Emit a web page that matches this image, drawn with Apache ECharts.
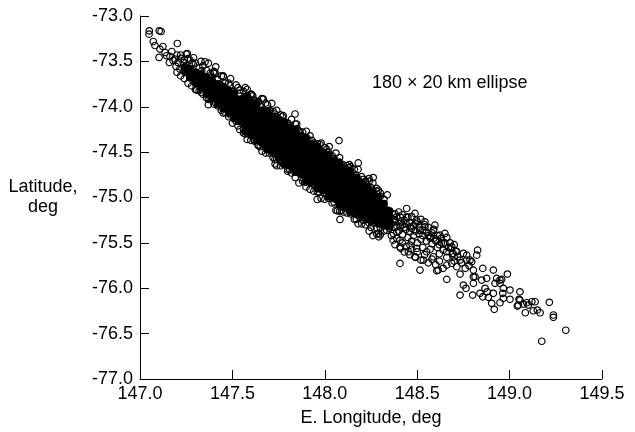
<!DOCTYPE html>
<html><head><meta charset="utf-8">
<script src="https://cdn.jsdelivr.net/npm/echarts/dist/echarts.min.js"></script>
<style>html,body{margin:0;padding:0;background:#fff}#c{width:635px;height:432px}</style>
</head><body><div id="c"></div>
<script>
const xTicks = [147.0, 147.5, 148.0, 148.5, 149.0, 149.5];
const yTicks = [-73.0, -73.5, -74.0, -74.5, -75.0, -75.5, -76.0, -76.5, -77.0];
const xTitle = 'E. Longitude, deg';
const yTitle = 'Latitude,\ndeg';
const note = '180 \u00d7 20 km ellipse';

// dense centre of the cloud (overlapping circles appear solid black)
const corePoints = [
[147.24,-73.57],[147.24,-73.61],
[147.27,-73.58],[147.27,-73.63],[147.27,-73.68],
[147.30,-73.62],[147.30,-73.68],[147.30,-73.74],
[147.33,-73.64],[147.33,-73.70],[147.33,-73.75],[147.33,-73.80],
[147.36,-73.68],[147.36,-73.74],[147.36,-73.80],[147.36,-73.86],
[147.39,-73.71],[147.39,-73.77],[147.39,-73.83],[147.39,-73.91],
[147.42,-73.75],[147.42,-73.81],[147.42,-73.87],[147.42,-73.93],[147.42,-73.97],
[147.45,-73.78],[147.45,-73.84],[147.45,-73.90],[147.45,-73.96],[147.45,-74.02],
[147.48,-73.82],[147.48,-73.88],[147.48,-73.94],[147.48,-74.00],[147.48,-74.07],
[147.51,-73.85],[147.51,-73.91],[147.51,-73.97],[147.51,-74.03],[147.51,-74.09],[147.51,-74.13],
[147.54,-73.92],[147.54,-73.98],[147.54,-74.04],[147.54,-74.10],[147.54,-74.16],
[147.57,-73.93],[147.57,-73.99],[147.57,-74.05],[147.57,-74.11],[147.57,-74.17],[147.57,-74.23],
[147.60,-74.01],[147.60,-74.07],[147.60,-74.13],[147.60,-74.19],[147.60,-74.25],
[147.63,-74.02],[147.63,-74.08],[147.63,-74.14],[147.63,-74.20],[147.63,-74.26],[147.63,-74.32],
[147.66,-74.10],[147.66,-74.16],[147.66,-74.22],[147.66,-74.28],[147.66,-74.34],
[147.69,-74.11],[147.69,-74.17],[147.69,-74.23],[147.69,-74.29],[147.69,-74.35],[147.69,-74.41],
[147.72,-74.19],[147.72,-74.25],[147.72,-74.31],[147.72,-74.37],[147.72,-74.43],
[147.75,-74.20],[147.75,-74.26],[147.75,-74.32],[147.75,-74.38],[147.75,-74.44],[147.75,-74.50],
[147.78,-74.28],[147.78,-74.34],[147.78,-74.40],[147.78,-74.46],[147.78,-74.52],
[147.81,-74.29],[147.81,-74.35],[147.81,-74.41],[147.81,-74.47],[147.81,-74.53],[147.81,-74.59],
[147.84,-74.37],[147.84,-74.43],[147.84,-74.49],[147.84,-74.55],[147.84,-74.61],
[147.87,-74.38],[147.87,-74.44],[147.87,-74.50],[147.87,-74.56],[147.87,-74.62],[147.87,-74.68],
[147.90,-74.46],[147.90,-74.52],[147.90,-74.58],[147.90,-74.64],[147.90,-74.70],
[147.93,-74.47],[147.93,-74.53],[147.93,-74.59],[147.93,-74.65],[147.93,-74.71],[147.93,-74.77],
[147.96,-74.55],[147.96,-74.61],[147.96,-74.67],[147.96,-74.73],[147.96,-74.79],
[147.99,-74.56],[147.99,-74.62],[147.99,-74.68],[147.99,-74.74],[147.99,-74.80],[147.99,-74.86],
[148.02,-74.64],[148.02,-74.70],[148.02,-74.76],[148.02,-74.82],[148.02,-74.88],
[148.05,-74.65],[148.05,-74.71],[148.05,-74.77],[148.05,-74.83],[148.05,-74.89],[148.05,-74.95],
[148.08,-74.73],[148.08,-74.79],[148.08,-74.85],[148.08,-74.91],[148.08,-74.97],
[148.11,-74.74],[148.11,-74.80],[148.11,-74.86],[148.11,-74.92],[148.11,-74.98],[148.11,-75.04],
[148.14,-74.82],[148.14,-74.88],[148.14,-74.94],[148.14,-75.00],[148.14,-75.06],
[148.17,-74.83],[148.17,-74.89],[148.17,-74.95],[148.17,-75.01],[148.17,-75.07],[148.17,-75.13],
[148.20,-74.91],[148.20,-74.97],[148.20,-75.03],[148.20,-75.09],[148.20,-75.15],
[148.23,-74.94],[148.23,-75.00],[148.23,-75.06],[148.23,-75.12],[148.23,-75.18],
[148.26,-75.00],[148.26,-75.06],[148.26,-75.12],[148.26,-75.18],
[148.29,-75.06],[148.29,-75.12],[148.29,-75.18],[148.29,-75.23],
[148.32,-75.13],[148.32,-75.19],[148.32,-75.25],
[148.35,-75.21],[148.35,-75.26]
];

// outer rows of the dense centre, where the band is widest
const coreOuterPoints = [
[147.57,-73.89],[147.57,-74.27],[147.60,-73.95],[147.60,-74.31],[147.63,-73.97],[147.63,-74.37],
[147.66,-74.04],[147.66,-74.40],[147.69,-74.05],[147.69,-74.47],[147.72,-74.11],[147.72,-74.51],
[147.75,-74.14],[147.75,-74.56],[147.78,-74.22],[147.78,-74.58],[147.78,-74.17],[147.78,-74.63],
[147.81,-74.23],[147.81,-74.65],[147.84,-74.31],[147.84,-74.67],[147.84,-74.26],[147.84,-74.72],
[147.87,-74.32],[147.87,-74.74],[147.90,-74.40],[147.90,-74.76],[147.90,-74.35],[147.90,-74.81],
[147.93,-74.41],[147.93,-74.83],[147.96,-74.49],[147.96,-74.85],[147.96,-74.44],[147.96,-74.90],
[147.99,-74.50],[147.99,-74.92],[148.02,-74.58],[148.02,-74.94],[148.02,-74.53],[148.02,-74.99],
[148.05,-74.59],[148.05,-75.01],[148.08,-74.67],[148.08,-75.03],[148.08,-74.62],[148.08,-75.08],
[148.11,-74.68],[148.11,-75.10],[148.14,-74.76],[148.14,-75.12],[148.14,-74.72],[148.14,-75.16],
[148.17,-74.78],[148.17,-75.18],[148.20,-74.84],[148.20,-75.20],[148.23,-74.88],[148.23,-75.24],
[148.26,-74.94],[148.26,-75.25],[148.29,-75.00],[148.29,-75.29],[148.32,-75.07],[148.32,-75.31],
[148.35,-75.15],[148.35,-75.32]
];

// circles along the edges of the dense band
const edgePoints = [
[147.20,-73.43],[147.20,-73.62],[147.22,-73.43],[147.22,-73.66],[147.24,-73.48],[147.24,-73.69],
[147.26,-73.47],[147.26,-73.74],[147.28,-73.52],[147.28,-73.77],[147.30,-73.52],[147.30,-73.81],
[147.32,-73.57],[147.32,-73.82],[147.34,-73.55],[147.34,-73.86],[147.36,-73.60],[147.36,-73.90],
[147.38,-73.63],[147.38,-73.92],[147.40,-73.61],[147.40,-73.97],[147.42,-73.70],[147.42,-73.99],
[147.44,-73.66],[147.44,-74.04],[147.46,-73.74],[147.46,-74.06],[147.48,-73.74],[147.48,-74.11],
[147.50,-73.83],[147.50,-74.18],[147.52,-73.76],[147.52,-74.16],[147.54,-73.85],[147.54,-74.25],
[147.56,-73.90],[147.56,-74.24],[147.58,-73.88],[147.58,-74.29],[147.60,-73.97],[147.60,-74.29],
[147.62,-73.96],[147.62,-74.38],[147.64,-73.95],[147.64,-74.37],[147.66,-74.04],[147.66,-74.37],
[147.68,-74.10],[147.68,-74.45],[147.70,-74.07],[147.70,-74.45],[147.72,-74.12],[147.72,-74.50],
[147.74,-74.11],[147.74,-74.58],[147.76,-74.20],[147.76,-74.53],[147.78,-74.20],[147.78,-74.58],
[147.80,-74.27],[147.80,-74.64],[147.82,-74.24],[147.82,-74.61],[147.84,-74.31],[147.84,-74.66],
[147.86,-74.27],[147.86,-74.72],[147.88,-74.38],[147.88,-74.74],[147.90,-74.37],[147.90,-74.74],
[147.92,-74.46],[147.92,-74.83],[147.94,-74.45],[147.94,-74.82],[147.96,-74.44],[147.96,-74.82],
[147.98,-74.52],[147.98,-74.91],[148.00,-74.53],[148.00,-74.90],[148.02,-74.60],[148.02,-74.95],
[148.04,-74.57],[148.04,-74.95],[148.06,-74.65],[148.06,-75.02],[148.08,-74.61],[148.08,-75.03],
[148.10,-74.69],[148.10,-75.11],[148.12,-74.70],[148.12,-75.08],[148.14,-74.79],[148.14,-75.09],
[148.16,-74.78],[148.16,-75.15],[148.18,-74.79],[148.18,-75.20],[148.20,-74.85],[148.20,-75.18],
[148.22,-74.83],[148.22,-75.23],[148.24,-74.92],[148.24,-75.28],[148.26,-74.92],[148.26,-75.28],
[148.28,-74.93],[148.28,-75.33],[148.30,-74.99],[148.30,-75.33],[148.32,-75.02],[148.32,-75.37],
[147.25,-73.42],[147.29,-73.46],[147.33,-73.50],[147.33,-73.84],[147.37,-73.52],[147.37,-73.92],
[147.41,-73.56],[147.41,-73.96],[147.45,-73.66],[147.45,-74.07],[147.49,-73.69],[147.49,-74.09],
[147.53,-73.79],[147.53,-74.21],[147.57,-73.79],[147.57,-74.30],[147.61,-73.88],[147.61,-74.31],
[147.65,-73.98],[147.65,-74.44],[147.69,-73.98],[147.69,-74.46],[147.73,-74.08],[147.73,-74.58],
[147.77,-74.11],[147.77,-74.60],[147.81,-74.21],[147.81,-74.69],[147.85,-74.24],[147.85,-74.71],
[147.89,-74.34],[147.89,-74.83],[147.93,-74.37],[147.93,-74.85],[147.97,-74.47],[147.97,-74.94],
[148.01,-74.47],[148.01,-74.96],[148.05,-74.57],[148.05,-75.05],[148.09,-74.66],[148.09,-75.14],
[148.13,-74.67],[148.13,-75.14],[148.17,-74.76],[148.17,-75.24],[148.21,-74.80],[148.21,-75.25],
[148.25,-74.89],[148.25,-75.33],[148.29,-74.92],[148.29,-75.40]
];

// circles just outside the widest part of the band
const outerEdgePoints = [
[147.56,-73.83],[147.56,-74.29],[147.60,-73.86],[147.60,-74.37],[147.64,-73.94],[147.64,-74.42],
[147.68,-73.96],[147.68,-74.51],[147.72,-74.05],[147.72,-74.56],[147.76,-74.09],[147.76,-74.65],
[147.80,-74.18],[147.80,-74.69],[147.84,-74.19],[147.84,-74.78],[147.88,-74.28],[147.88,-74.82],
[147.92,-74.32],[147.92,-74.91],[147.96,-74.41],[147.96,-74.94],[148.00,-74.45],[148.00,-75.02],
[148.04,-74.54],[148.04,-75.06],[148.08,-74.56],[148.08,-75.15],[148.12,-74.65],[148.12,-75.17],
[148.16,-74.69],[148.16,-75.24],[148.20,-74.77],[148.20,-75.29],[148.24,-74.82],[148.24,-75.37],
[148.28,-74.90],[148.28,-75.40],
[147.58,-73.81],[147.58,-74.36],[147.62,-73.93],[147.62,-74.37],[147.66,-73.91],[147.66,-74.49],
[147.70,-74.04],[147.70,-74.51],[147.74,-74.04],[147.74,-74.65],[147.78,-74.16],[147.78,-74.64],
[147.82,-74.14],[147.82,-74.73],[147.86,-74.27],[147.86,-74.84],[147.90,-74.27],[147.90,-74.83],
[147.94,-74.40],[147.94,-74.93],[147.98,-74.40],[147.98,-75.01],[148.02,-74.50],[148.02,-75.01],
[148.06,-74.51],[148.06,-75.14],[148.10,-74.64],[148.10,-75.16],[148.14,-74.66],[148.14,-75.18],
[148.18,-74.69],[148.18,-75.29],[148.22,-74.82],[148.22,-75.30],[148.26,-74.84],[148.26,-75.42],
[148.30,-74.95],[148.30,-75.41]
];

// upper-left end and scattered circles off the band
const scatterPoints = [
[147.050,-73.163],[147.104,-73.163],[147.114,-73.171],[147.072,-73.281],[147.049,-73.200],
[147.108,-73.365],[147.202,-73.303],[147.172,-73.391],[147.103,-73.457],[147.144,-73.438],
[147.159,-73.512],[147.189,-73.475],[147.256,-73.413],[147.271,-73.486],[147.288,-73.530],
[147.352,-73.504],[147.234,-73.512],[147.216,-73.585],[147.334,-73.603],[147.400,-73.633],
[147.451,-73.669],[147.379,-73.677],[147.307,-73.816],[147.370,-73.977],[147.541,-73.816],
[147.604,-73.867],[147.586,-73.904],[147.667,-73.915],[147.713,-73.963],[147.775,-74.098],
[147.839,-74.080],[147.848,-74.190],[147.902,-74.344],[147.974,-74.417],[148.024,-74.439],
[148.077,-74.373],[147.640,-74.428],[147.731,-74.630],[147.799,-74.711],[147.487,-73.765],
[147.433,-73.750],[147.523,-73.933],[147.406,-73.622],
[147.135,-73.402],[147.162,-73.446],[147.179,-73.490],[147.206,-73.512],[147.222,-73.468],
[147.195,-73.556],[147.244,-73.556],[147.260,-73.600],[147.081,-73.325],[147.124,-73.336],
[148.133,-74.637],[148.181,-74.619],[148.239,-74.791],[148.262,-74.780],[148.338,-74.971],
[147.898,-74.883],[147.959,-75.022],[148.068,-75.147],[148.082,-75.242]
];

// two streaks just past the dense centre
const streakPoints = [
[148.38,-75.18],[148.39,-75.38],[148.40,-75.16],[148.41,-75.22],[148.42,-75.30],[148.42,-75.19],
[148.43,-75.25],[148.44,-75.35],[148.45,-75.22],[148.46,-75.28],[148.47,-75.21],[148.48,-75.31],
[148.49,-75.37],[148.50,-75.27],[148.51,-75.33],[148.52,-75.24],[148.53,-75.42],[148.54,-75.30],
[148.55,-75.38],[148.56,-75.33],[148.57,-75.45],[148.58,-75.39],[148.59,-75.35],[148.60,-75.48],
[148.61,-75.42],[148.62,-75.52],[148.63,-75.45],[148.65,-75.50],[148.66,-75.44],[148.68,-75.56],
[148.70,-75.52],[148.71,-75.59],
[148.36,-75.42],[148.37,-75.47],[148.38,-75.52],[148.39,-75.45],[148.41,-75.56],[148.42,-75.50],
[148.43,-75.60],[148.44,-75.54],[148.46,-75.63],[148.47,-75.57],[148.49,-75.66],[148.50,-75.60],
[148.52,-75.69],[148.54,-75.63],[148.56,-75.72],[148.58,-75.68],[148.60,-75.74],[148.62,-75.70],
[148.64,-75.78],[148.38,-75.27],[148.38,-75.33],[148.37,-75.24]
];

// lower-right part of the band
const tailPoints = [
[148.335,-75.360],[148.371,-75.396],[148.292,-75.433],[148.389,-75.213],[148.407,-75.323],
[148.443,-75.213],[148.443,-75.121],[148.461,-75.323],[148.488,-75.176],[148.497,-75.250],
[148.515,-75.360],[148.542,-75.268],[148.542,-75.323],[148.569,-75.433],[148.587,-75.360],
[148.596,-75.305],[148.606,-75.470],[148.623,-75.415],[148.641,-75.506],[148.650,-75.396],
[148.678,-75.499],[148.660,-75.598],[148.687,-75.543],[148.695,-75.616],[148.714,-75.598],
[148.732,-75.690],[148.768,-75.690],[148.750,-75.616],[148.699,-75.653],[148.768,-75.635],
[148.786,-75.690],[148.822,-75.635],[148.827,-75.580],[148.407,-75.470],[148.407,-75.543],
[148.452,-75.598],[148.461,-75.525],[148.488,-75.653],[148.497,-75.561],[148.533,-75.690],
[148.551,-75.598],[148.587,-75.653],[148.614,-75.800],[148.515,-75.800],[148.606,-75.808],
[148.407,-75.726],[148.660,-75.745],[148.687,-75.726],[148.714,-75.763],[148.660,-75.902],
[148.732,-75.844],[148.732,-76.075],[148.750,-75.965],[148.764,-76.001],[148.800,-76.075],
[148.804,-75.946],[148.804,-75.874],[148.804,-75.800],[148.855,-75.781],[148.849,-75.910],
[148.876,-75.891],[148.867,-76.001],[148.840,-76.056],[148.855,-76.094],[148.879,-76.039],
[148.903,-76.166],[148.917,-76.232],[148.912,-75.800],[148.912,-76.056],[148.921,-75.946],
[148.930,-75.891],[148.948,-75.946],[148.948,-76.160],[148.957,-75.902],[148.963,-76.056],
[148.966,-76.001],[148.966,-76.111],[148.988,-75.844],[149.002,-76.020],[149.002,-76.122],
[149.047,-76.185],[149.051,-76.122],[149.056,-76.039],[149.074,-76.174],[149.085,-76.270],
[149.093,-76.160],[149.120,-76.149],[149.128,-76.248],[149.138,-76.149],[149.150,-76.240],
[149.165,-76.270],[149.174,-76.584],[149.215,-76.155],[149.237,-76.295],[149.237,-76.320],
[149.304,-76.463],[148.795,-75.709],[148.813,-75.874],[148.885,-76.100],[148.948,-75.910],
[149.042,-76.196],[149.101,-76.185],[149.056,-76.130],
[148.38,-75.25],[148.39,-75.31],[148.40,-75.37],[148.41,-75.27],[148.42,-75.41],[148.43,-75.33],
[148.44,-75.29],[148.45,-75.44],[148.46,-75.38],[148.47,-75.48],[148.47,-75.34],[148.48,-75.42],
[148.49,-75.29],[148.50,-75.50],[148.51,-75.40],[148.52,-75.46],[148.53,-75.55],[148.53,-75.36],
[148.55,-75.48],[148.56,-75.42],[148.57,-75.57],[148.58,-75.51],[148.59,-75.45],[148.61,-75.55],
[148.62,-75.62],[148.63,-75.50],[148.64,-75.58],[148.66,-75.66],[148.67,-75.55],[148.69,-75.62],
[148.70,-75.70],[148.72,-75.65],[148.74,-75.72],[148.76,-75.78],[148.78,-75.75],[148.36,-75.29],
[148.37,-75.19],[148.35,-75.34],[148.34,-75.14],[148.33,-75.28]
];

const FONT = '"Liberation Sans", Arial, Helvetica, sans-serif';
const chart = echarts.init(document.getElementById('c'), null, {renderer: 'canvas'});
const ring = {color: 'rgba(0,0,0,0)', borderColor: '#000', borderWidth: 1.2, opacity: 1};
function ringSeries(data) {
  return {type: 'scatter', data: data, symbol: 'circle', symbolSize: 6.5, itemStyle: ring,
    silent: true, animation: false, emphasis: {disabled: true}, large: false};
}
function discSeries(data) {
  return {type: 'scatter', data: data, symbol: 'circle', symbolSize: 8,
    itemStyle: {color: '#000', opacity: 1, borderWidth: 0},
    silent: true, animation: false, emphasis: {disabled: true}, large: false};
}
chart.setOption({
  animation: false,
  backgroundColor: '#fff',
  grid: {left: 140, top: 16, width: 462, height: 363, containLabel: false, outerBoundsMode: 'none'},
  xAxis: {
    type: 'value', min: xTicks[0], max: xTicks[xTicks.length - 1], interval: 0.5,
    name: xTitle, nameLocation: 'middle', nameGap: 30,
    nameTextStyle: {fontSize: 18, color: '#000', fontFamily: FONT},
    axisLine: {onZero: false, lineStyle: {color: '#000', width: 1}},
    axisTick: {inside: true, length: 9, lineStyle: {color: '#000', width: 1}},
    axisLabel: {formatter: v => v.toFixed(1), fontSize: 18, color: '#000', margin: 6, fontFamily: FONT,
      showMinLabel: true, showMaxLabel: true},
    splitLine: {show: false}
  },
  yAxis: {
    type: 'value', min: yTicks[yTicks.length - 1], max: yTicks[0], interval: 0.5,
    axisLine: {onZero: false, lineStyle: {color: '#000', width: 1}},
    axisTick: {inside: true, length: 9, lineStyle: {color: '#000', width: 1}},
    axisLabel: {formatter: v => v.toFixed(1), fontSize: 18, color: '#000', margin: 7, fontFamily: FONT,
      showMinLabel: true, showMaxLabel: true},
    splitLine: {show: false}
  },
  graphic: [
    {type: 'text', silent: true, style: {text: yTitle, x: 43, y: 197, align: 'center', verticalAlign: 'middle',
      fontSize: 18, lineHeight: 20, fontFamily: FONT, fill: '#000'}},
    {type: 'text', silent: true, style: {text: note, x: 372, y: 83, align: 'left', verticalAlign: 'middle',
      fontSize: 18, fontFamily: FONT, fill: '#000'}}
  ],
  series: [
    discSeries(corePoints),
    discSeries(coreOuterPoints),
    ringSeries(edgePoints),
    ringSeries(outerEdgePoints),
    ringSeries(scatterPoints),
    ringSeries(streakPoints),
    ringSeries(tailPoints)
  ]
});
</script></body></html>
